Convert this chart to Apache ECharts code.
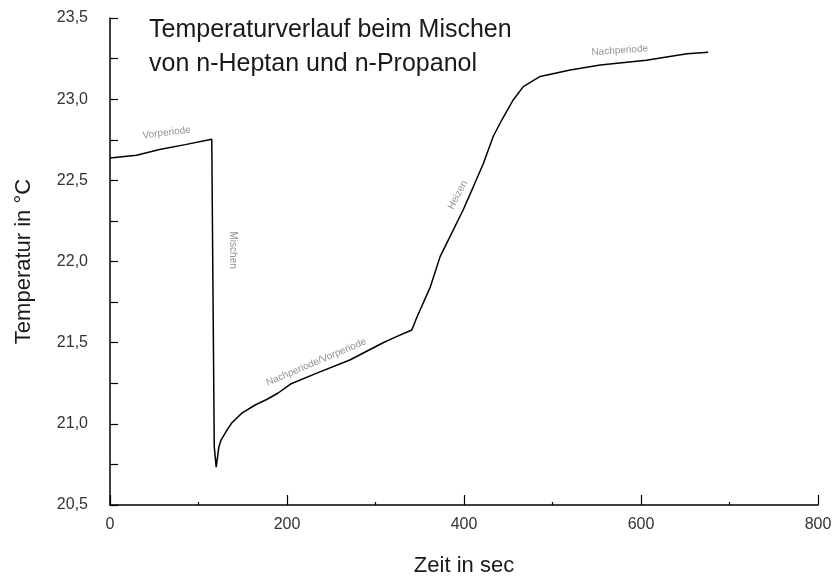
<!DOCTYPE html>
<html>
<head>
<meta charset="utf-8">
<title>Temperaturverlauf</title>
<script src="https://cdn.jsdelivr.net/npm/echarts@6/dist/echarts.min.js"></script>
<style>
  html, body { margin: 0; padding: 0; background: #fff; }
  #chart { width: 837px; height: 582px; }
</style>
</head>
<body>
<div id="chart"></div>
<script>
// Temperaturverlauf beim Mischen - Messkurve
var chartDom = document.getElementById('chart');
var chart = echarts.init(chartDom);

var zeit = [
  0, 30, 56, 85, 115, 116, 116.3, 117.8, 120, 123, 125.5, 132, 137.5, 149, 164, 177, 190,
  204, 233, 271, 308, 323, 341, 347, 362, 373, 384, 399, 410.5, 422, 433, 442.5,
  455.6, 467, 486, 520, 554, 606, 652, 676
];
var temperatur = [
  22.637, 22.655, 22.69, 22.72, 22.753, 22.75, 21.86, 20.86, 20.733, 20.857, 20.90, 20.96, 21.005, 21.066, 21.116, 21.15, 21.19,
  21.245, 21.311, 21.393, 21.498, 21.536, 21.578, 21.66, 21.844, 22.03, 22.152, 22.317, 22.46, 22.605, 22.77, 22.87,
  22.995, 23.077, 23.14, 23.18, 23.21, 23.24, 23.28, 23.289
];

// Beschriftungen im Diagramm
var notizText = ['Vorperiode', 'Mischen', 'Nachperiode/Vorperiode', 'Heizen', 'Nachperiode'];
var notizZeit = [64, 138.6, 233, 393, 576];
var notizTemp = [22.793, 22.07, 21.38, 22.41, 23.30];
var notizWinkel = [7, -90, 23, 62, 4];

var schrift = '"Liberation Sans", Arial, sans-serif';

function komma(v) {
  return String(v.toFixed(1)).replace('.', ',');
}

var option = {
  animation: false,
  backgroundColor: '#fff',
  title: {
    text: 'Temperaturverlauf beim Mischen\nvon n-Heptan und n-Propanol',
    left: 144,
    top: 8,
    textStyle: {
      fontFamily: schrift,
      fontSize: 25,
      fontWeight: 'normal',
      lineHeight: 34,
      color: '#1a1a1a'
    }
  },
  grid: {
    left: 110,
    right: 19,
    top: 18,
    bottom: 77
  },
  xAxis: {
    type: 'value',
    min: 0,
    max: 800,
    interval: 200,
    name: 'Zeit in sec',
    nameLocation: 'middle',
    nameGap: 50,
    nameTextStyle: { fontFamily: schrift, fontSize: 22, color: '#1a1a1a' },
    axisLine: { show: true, lineStyle: { color: '#000', width: 1.5 } },
    axisTick: { show: true, inside: true, length: 10, lineStyle: { color: '#000', width: 1.2 } },
    minorTick: { show: true, splitNumber: 2, length: 3, lineStyle: { color: '#000', width: 1.2 } },
    axisLabel: { margin: 12, fontFamily: schrift, fontSize: 16, color: '#333' },
    splitLine: { show: false }
  },
  yAxis: {
    type: 'value',
    min: 20.5,
    max: 23.5,
    interval: 0.5,
    name: 'Temperatur in °C',
    nameLocation: 'middle',
    nameGap: 75,
    nameTextStyle: { fontFamily: schrift, fontSize: 22, color: '#1a1a1a' },
    axisLine: { show: true, lineStyle: { color: '#000', width: 1.5 } },
    axisTick: { show: true, inside: true, length: 8, lineStyle: { color: '#000', width: 1.2 } },
    minorTick: { show: true, splitNumber: 2, length: 8, lineStyle: { color: '#000', width: 1.2 } },
    axisLabel: { margin: 22, fontFamily: schrift, fontSize: 16, color: '#333', formatter: komma },
    splitLine: { show: false }
  },
  series: [
    {
      type: 'line',
      name: 'Temperatur',
      data: zeit.map(function (t, i) { return [t, temperatur[i]]; }),
      showSymbol: false,
      smooth: false,
      lineStyle: { color: '#000', width: 1.5 }
    },
    {
      type: 'scatter',
      silent: true,
      symbolSize: 0,
      data: notizText.map(function (txt, i) {
        return {
          value: [notizZeit[i], notizTemp[i]],
          label: { formatter: txt, rotate: notizWinkel[i] }
        };
      }),
      label: {
        show: true,
        position: 'inside',
        fontFamily: schrift,
        fontSize: 10,
        color: '#777'
      }
    }
  ]
};

chart.setOption(option);
</script>
</body>
</html>
